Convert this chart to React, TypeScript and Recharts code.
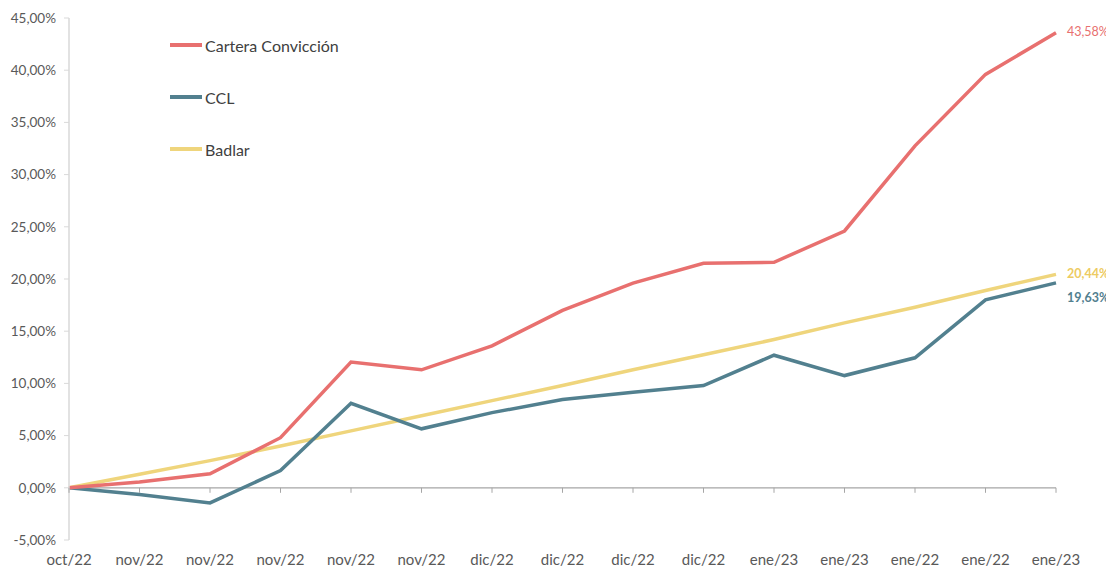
import React from 'react';
import { LineChart, Line, XAxis, YAxis, ReferenceLine, LabelList } from 'recharts';

const months = ['oct/22', 'nov/22', 'nov/22', 'nov/22', 'nov/22', 'nov/22', 'dic/22', 'dic/22', 'dic/22', 'dic/22', 'ene/23', 'ene/23', 'ene/22', 'ene/22', 'ene/23'];
const cartera = [0, 0.55, 1.35, 4.8, 12.05, 11.3, 13.6, 17.0, 19.6, 21.5, 21.6, 24.6, 32.75, 39.6, 43.58];
const ccl = [0, -0.65, -1.45, 1.65, 8.1, 5.65, 7.2, 8.45, 9.15, 9.8, 12.7, 10.75, 12.45, 18.0, 19.63];
const badlar = [0, 1.3, 2.6, 4.0, 5.45, 6.9, 8.35, 9.8, 11.3, 12.75, 14.2, 15.8, 17.3, 18.9, 20.44];
const yTicks = [-5, 0, 5, 10, 15, 20, 25, 30, 35, 40, 45];

const data = months.map((m, i) => ({ idx: i, label: m, cartera: cartera[i], ccl: ccl[i], badlar: badlar[i] }));

const RED = '#E8706F';
const BLUE = '#52808F';
const YELLOW = '#EFD57C';
const FONT = 'Lato, sans-serif';

const series = [
  { key: 'cartera', name: 'Cartera Convicción', color: RED },
  { key: 'ccl', name: 'CCL', color: BLUE },
  { key: 'badlar', name: 'Badlar', color: YELLOW },
];

const W = 1106;
const H = 559;
const TOP = 10;
const BOTTOM = 27;
const plotH = H - TOP - BOTTOM;
const zeroY = TOP + (plotH * 45) / 50;

const fmt = (v: number) => v.toFixed(2).replace('.', ',') + '%';

const XTick = (props: any) => {
  const { x, payload } = props;
  return (
    <g>
      <line x1={x} x2={x} y1={zeroY} y2={zeroY + 5} stroke="#a6a6a6" strokeWidth={1} />
      <text x={x} y={553} textAnchor="middle" dominantBaseline="middle" fill="#595959" fontSize={15} fontFamily={FONT}>
        {months[payload.value]}
      </text>
    </g>
  );
};

const endLabel = (color: string, dy: number, bold: boolean) => (props: any) => {
  const { x, y, value, index } = props;
  if (index !== months.length - 1) return null;
  return (
    <text x={x + 11} y={y + dy} dominantBaseline="middle" fill={color} fontSize={12.5} fontWeight={bold ? 700 : 400} fontFamily={FONT}>
      {fmt(value)}
    </text>
  );
};

export default function App() {
  return (
    <div style={{ position: 'relative', width: W, height: H, background: '#fff' }}>
      <LineChart width={W} height={H} data={data} margin={{ top: TOP, right: 58, left: 0, bottom: 0 }}>
        <XAxis
          dataKey="idx"
          type="number"
          domain={[0, 14]}
          ticks={months.map((_, i) => i)}
          interval={0}
          axisLine={false}
          tickLine={false}
          height={BOTTOM}
          tick={<XTick />}
        />
        <YAxis
          width={61}
          domain={[-5, 45]}
          ticks={yTicks}
          interval={0}
          tickFormatter={fmt}
          axisLine={{ stroke: '#d9d9d9', strokeWidth: 1.5 }}
          tickLine={{ stroke: '#d9d9d9' }}
          tickSize={5}
          tickMargin={8}
          tick={{ fill: '#595959', fontSize: 13.5, fontFamily: FONT }}
        />
        <ReferenceLine y={0} stroke="#a6a6a6" strokeWidth={1.2} />
        <Line dataKey="badlar" name="Badlar" stroke={YELLOW} strokeWidth={3.5} dot={false} isAnimationActive={false}>
          <LabelList dataKey="badlar" content={endLabel('#EDCB62', 0, true)} />
        </Line>
        <Line dataKey="ccl" name="CCL" stroke={BLUE} strokeWidth={3.5} dot={false} isAnimationActive={false}>
          <LabelList dataKey="ccl" content={endLabel(BLUE, 16, true)} />
        </Line>
        <Line dataKey="cartera" name="Cartera Convicción" stroke={RED} strokeWidth={3.5} dot={false} isAnimationActive={false}>
          <LabelList dataKey="cartera" content={endLabel(RED, 0, false)} />
        </Line>
      </LineChart>
      <div style={{ position: 'absolute', left: 162, top: 11, fontFamily: FONT }}>
        {series.map((s) => (
          <div key={s.key} style={{ display: 'flex', alignItems: 'center', height: 52 }}>
            <div style={{ width: 32, height: 4, background: s.color, marginRight: 3 }} />
            <span style={{ fontSize: 16, color: '#404040' }}>{s.name}</span>
          </div>
        ))}
      </div>
    </div>
  );
}
